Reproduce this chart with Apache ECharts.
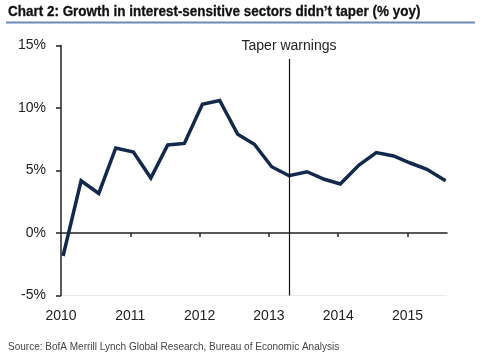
<!DOCTYPE html>
<html>
<head>
<meta charset="utf-8">
<script src="https://cdn.jsdelivr.net/npm/echarts@6/dist/echarts.min.js"></script>
<style>html,body{margin:0;padding:0;background:#fff}#c{width:488px;height:361px}</style>
</head>
<body>
<div id="c"></div>
<script>
// Quarterly observations (decimal year positions) and % yoy growth
var xYears = [2010.03, 2010.29, 2010.545, 2010.79, 2011.045, 2011.296, 2011.54, 2011.78, 2012.04, 2012.29, 2012.55, 2012.79, 2013.04, 2013.29, 2013.55, 2013.80, 2014.03, 2014.30, 2014.55, 2014.80, 2015.04, 2015.28, 2015.55];
var growth = [-1.84, 4.18, 3.17, 6.8, 6.48, 4.4, 7.04, 7.17, 10.3, 10.6, 7.9, 7.1, 5.3, 4.58, 4.9, 4.3, 3.92, 5.44, 6.43, 6.16, 5.6, 5.1, 4.18];
var yearLabels = [2010, 2011, 2012, 2013, 2014, 2015];
var yearTicks = [2011, 2012, 2013, 2014, 2015];
var taperDate = 2013.29;
var taperLabel = 'Taper warnings';
var titleText = 'Chart 2: Growth in interest-sensitive sectors didn\u2019t taper (% yoy)';
var sourceText = 'Source: BofA Merrill Lynch Global Research, Bureau of Economic Analysis';

var chart = echarts.init(document.getElementById('c'), null, {renderer: 'canvas'});
var clear = 'rgba(0,0,0,0)';
var xMin = 2010, xMax = 2015.57;
chart.setOption({
  animation: false,
  backgroundColor: '#fff',
  grid: {left: 61, right: 41, top: 45.5, bottom: 65.5, outerBoundsMode: 'none', containLabel: false},
  graphic: [
    {type: 'text', x: 8, y: 4, scaleX: 0.898, style: {text: titleText, font: 'bold 15px "Liberation Sans", sans-serif', fill: '#111', stroke: '#111', lineWidth: 0.3}},
    {type: 'line', shape: {x1: 6, y1: 22.5, x2: 475, y2: 22.5}, style: {stroke: '#6a8bb5', lineWidth: 2}},
    {type: 'text', x: 8, y: 341, scaleX: 0.91, style: {text: sourceText, font: '11px "Liberation Sans", sans-serif', fill: '#444'}}
  ],
  xAxis: [{
    type: 'value', min: xMin, max: xMax, position: 'bottom',
    axisLine: {show: false, onZero: false},
    axisTick: {show: false},
    axisLabel: {show: true, customValues: yearLabels, margin: 14, color: '#222', fontSize: 14, fontFamily: '"Liberation Sans", Arial, sans-serif', formatter: function (v) { return String(Math.round(v)); }},
    splitLine: {show: false}
  }, {
    type: 'value', min: xMin, max: xMax, position: 'top',
    axisLine: {show: true, onZero: true, lineStyle: {color: '#222', width: 1.5}},
    axisTick: {show: true, inside: true, length: 4, customValues: yearTicks, lineStyle: {color: '#222', width: 1.5}},
    axisLabel: {show: false},
    splitLine: {show: false}
  }],
  yAxis: {
    type: 'value', min: -5, max: 15, interval: 5,
    axisLine: {show: true, onZero: false, lineStyle: {color: '#222', width: 1.5}},
    axisTick: {show: true, length: 5, lineStyle: {color: '#222', width: 1.5}},
    axisLabel: {margin: 15, color: '#222', fontSize: 14, fontFamily: '"Liberation Sans", Arial, sans-serif', formatter: '{value}%'},
    splitLine: {show: true, lineStyle: {color: ['#e8e8e8', clear, clear, clear, clear], width: 1}}
  },
  series: [{
    type: 'line',
    xAxisIndex: 0,
    data: xYears.map(function (x, i) { return [x, growth[i]]; }),
    showSymbol: false,
    lineStyle: {color: '#13294b', width: 3.5, join: 'miter'},
    z: 3,
    markLine: {
      silent: true, symbol: 'none',
      lineStyle: {color: '#111', width: 1.2, type: 'solid'},
      label: {show: true, position: 'end', formatter: taperLabel, color: '#222', fontSize: 14, fontFamily: '"Liberation Sans", Arial, sans-serif', distance: 6},
      data: [[{coord: [taperDate, -5]}, {coord: [taperDate, 13.92]}]]
    }
  }]
});
</script>
</body>
</html>
